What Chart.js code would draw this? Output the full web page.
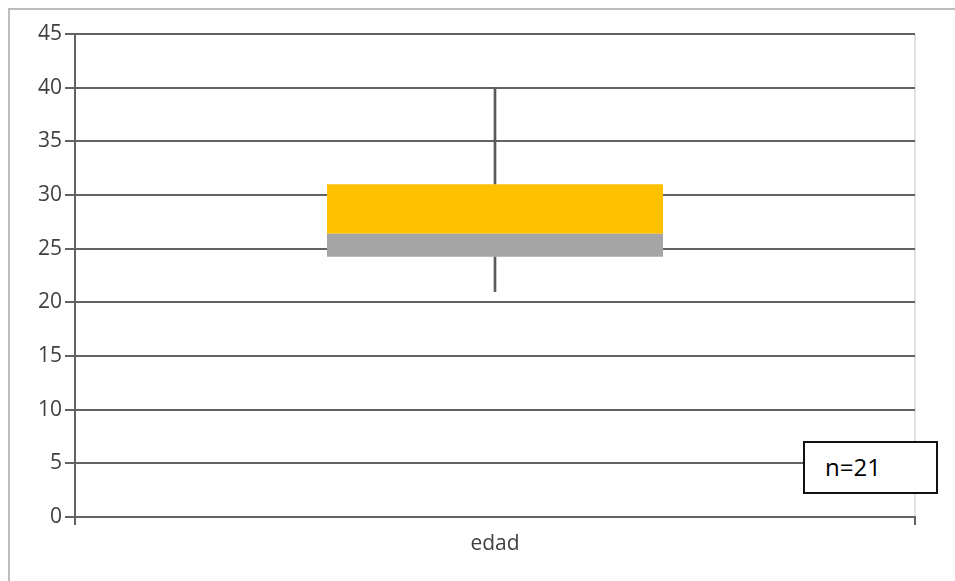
<!DOCTYPE html>
<html>
<head>
<meta charset="utf-8">
<script src="https://cdn.jsdelivr.net/npm/chart.js@4/dist/chart.umd.min.js"></script>
<style>
    html, body { margin: 0; padding: 0; background: #fff; }
    #wrap { position: relative; width: 955px; height: 581px; overflow: hidden; }
    #frame {
        position: absolute; left: 8px; top: 8px; right: -2px; bottom: -2px;
        border-left: 2px solid #bdbdbd; border-top: 2px solid #bdbdbd;
    }
    #chart { position: absolute; left: 0; top: 0; }
    #note {
        position: absolute; left: 803px; top: 441px; width: 135px; height: 53px;
        border: 2px solid #111; background: #fff; box-sizing: border-box;
        font-family: "Open Sans", sans-serif; font-size: 24px; color: #000;
        line-height: 47px; padding-left: 20px;
    }
</style>
</head>
<body>
<div id="wrap">
    <div id="frame"></div>
    <canvas id="chart" width="955" height="581"></canvas>
    <div id="note">n=21</div>
</div>
<script>
"use strict";

// ---------- Data ----------

const categories = ["edad"];
const minValues = [21];
const q1Values = [24.25];
const medianValues = [26.4];
const q3Values = [31];
const maxValues = [40];
const yTickMax = 45;
const yTickStep = 5;

// ---------- Chart ----------

const GRID = "#626262";
const TEXT = "#404040";
const FONT = { family: "'Open Sans', sans-serif", size: 21 };

const range = (lo, hi) => lo.map((v, i) => [v, hi[i]]);

const boxPart = (data, color) => ({
    data,
    backgroundColor: color,
    grouped: false,
    barPercentage: 0.4,
    categoryPercentage: 1,
    borderWidth: 0,
});

const whisker = (data) => ({
    data,
    backgroundColor: "#5a5a5a",
    grouped: false,
    barThickness: 2,
    borderWidth: 0,
});

new Chart(document.getElementById("chart"), {
    type: "bar",
    data: {
        labels: categories,
        datasets: [
            boxPart(range(q1Values, medianValues), "#a5a5a5"),
            boxPart(range(medianValues, q3Values), "#ffc000"),
            whisker(range(minValues, q1Values)),
            whisker(range(q3Values, maxValues)),
        ],
    },
    options: {
        responsive: false,
        animation: false,
        layout: { padding: { left: 0, right: 40, top: 34, bottom: 0 } },
        plugins: {
            legend: { display: false },
            tooltip: { enabled: false },
        },
        scales: {
            x: {
                offset: true,
                grid: {
                    offset: true,
                    drawOnChartArea: true,
                    color: "#e2e2e2",
                    tickColor: GRID,
                    tickLength: 8,
                    lineWidth: 2,
                },
                border: { color: GRID, width: 2 },
                ticks: { color: TEXT, font: FONT, padding: 6 },
                afterFit: (scale) => { scale.height = 64; },
            },
            y: {
                min: 0,
                max: yTickMax,
                ticks: { stepSize: yTickStep, color: TEXT, font: FONT, padding: 3 },
                grid: { color: GRID, lineWidth: 2, tickLength: 10 },
                border: { color: GRID, width: 2 },
                afterFit: (scale) => { scale.width = 75; },
            },
        },
    },
});
</script>
</body>
</html>
